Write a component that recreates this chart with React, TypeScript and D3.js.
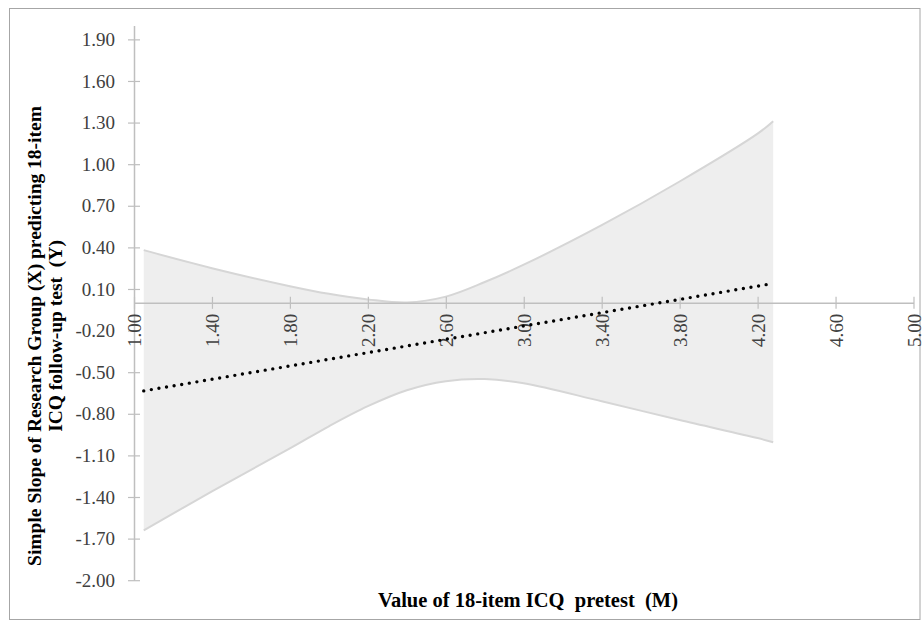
import React, { useEffect, useRef } from 'react';
import * as d3 from 'd3';

// values
const bandX = [1.05, 1.4, 1.8, 2.0, 2.2, 2.4, 2.6, 2.8, 3.0, 3.4, 3.8, 4.2, 4.28];
const bandUpper = [0.38, 0.25, 0.12, 0.065, 0.025, 0.003, 0.045, 0.15, 0.275, 0.56, 0.875, 1.22, 1.31];
const bandLower = [-1.64, -1.36, -1.05, -0.89, -0.745, -0.63, -0.565, -0.55, -0.58, -0.71, -0.845, -0.975, -1.005];
const slopeX = [1.05, 4.28];
const slopeY = [-0.635, 0.14];
const xTicks = [1.0, 1.4, 1.8, 2.2, 2.6, 3.0, 3.4, 3.8, 4.2, 4.6, 5.0];
const yTicks = [-2.0, -1.7, -1.4, -1.1, -0.8, -0.5, -0.2, 0.1, 0.4, 0.7, 1.0, 1.3, 1.6, 1.9];

const xTitle = 'Value of 18-item ICQ  pretest  (M)';
const yTitle1 = 'Simple Slope of Research Group (X) predicting 18-item';
const yTitle2 = 'ICQ follow-up test  (Y)';

export default function App() {
  const ref = useRef<SVGSVGElement>(null);

  useEffect(() => {
    const svg = d3.select(ref.current);
    svg.selectAll('*').remove();

    const width = 922;
    const height = 621;
    const font = '"Liberation Serif", "Times New Roman", serif';
    const fmt = (d: any) => d3.format('.2f')(d).replace('\u2212', '-');

    const x = d3.scaleLinear().domain([1, 5]).range([134, 913.5]);
    const y = d3.scaleLinear().domain([-2, 2]).range([580.2, 25.5]);

    // outer frame
    svg.append('rect')
      .attr('x', 9.5).attr('y', 8.5)
      .attr('width', width - 11.5).attr('height', height - 10)
      .attr('fill', '#fff').attr('stroke', '#a6a6a6').attr('stroke-width', 1);

    const band = bandX.map((v, i) => ({ x: v, hi: bandUpper[i], lo: bandLower[i] }));
    const curve = d3.curveCatmullRom.alpha(0.5);

    // confidence band
    svg.append('path')
      .datum(band)
      .attr('fill', '#eeeeee')
      .attr('d', d3.area<any>().x(d => x(d.x)).y0(d => y(d.lo)).y1(d => y(d.hi)).curve(curve));

    const edge = (key: 'hi' | 'lo') =>
      d3.line<any>().x(d => x(d.x)).y(d => y(d[key])).curve(curve);

    svg.append('path').datum(band).attr('fill', 'none')
      .attr('stroke', '#d6d6d6').attr('stroke-width', 2).attr('d', edge('hi'));
    svg.append('path').datum(band).attr('fill', 'none')
      .attr('stroke', '#d6d6d6').attr('stroke-width', 2).attr('d', edge('lo'));

    // y axis
    const yAxis = svg.append('g').attr('transform', `translate(${x(1)},0)`)
      .call(d3.axisLeft(y).tickValues(yTicks).tickSize(0).tickFormat(fmt));
    yAxis.attr('font-size', null).attr('font-family', null);
    yAxis.select('.domain').attr('stroke', '#bfbfbf').attr('stroke-width', 1.5);
    yAxis.selectAll('.tick').append('line')
      .attr('x1', -6).attr('x2', 6).attr('stroke', '#bfbfbf').attr('stroke-width', 1.2);
    yAxis.selectAll('.tick text')
      .attr('x', -19).attr('fill', '#404040')
      .style('font-family', font).style('font-size', '19px');

    // x axis
    const xAxis = svg.append('g').attr('transform', `translate(0,${y(0)})`)
      .call(d3.axisBottom(x).tickValues(xTicks).tickSize(0).tickFormat(fmt));
    xAxis.attr('font-size', null).attr('font-family', null);
    xAxis.select('.domain').attr('stroke', '#bfbfbf').attr('stroke-width', 1.5);
    xAxis.selectAll('.tick').append('line')
      .attr('y1', -6).attr('y2', 6).attr('stroke', '#bfbfbf').attr('stroke-width', 1.2);
    xAxis.selectAll('.tick text')
      .attr('transform', 'rotate(-90)')
      .attr('x', -11).attr('y', 0).attr('dy', '0.35em')
      .attr('text-anchor', 'end').attr('fill', '#404040')
      .style('font-family', font).style('font-size', '19px');

    // simple slope line (dotted)
    svg.append('path')
      .datum(slopeX.map((v, i) => [v, slopeY[i]] as [number, number]))
      .attr('fill', 'none')
      .attr('stroke', '#000')
      .attr('stroke-width', 3.4)
      .attr('stroke-linecap', 'round')
      .attr('stroke-dasharray', '0 7.7')
      .attr('d', d3.line().x(d => x(d[0])).y(d => y(d[1])));

    // axis titles
    svg.append('text')
      .attr('x', 528).attr('y', 607)
      .attr('text-anchor', 'middle')
      .style('font-family', font).style('font-size', '20.5px').style('font-weight', 'bold')
      .style('white-space', 'pre')
      .text(xTitle);

    const yt = svg.append('text')
      .attr('transform', 'translate(0,336) rotate(-90)')
      .attr('text-anchor', 'middle')
      .style('font-family', font).style('font-size', '19.5px').style('font-weight', 'bold')
      .style('white-space', 'pre');
    yt.append('tspan').attr('x', 0).attr('y', 41).text(yTitle1);
    yt.append('tspan').attr('x', 0).attr('y', 62).text(yTitle2);
  }, []);

  return (
    <svg ref={ref} width={922} height={621}
      style={{ position: 'absolute', left: 0, top: 0, background: '#fff' }} />
  );
}
